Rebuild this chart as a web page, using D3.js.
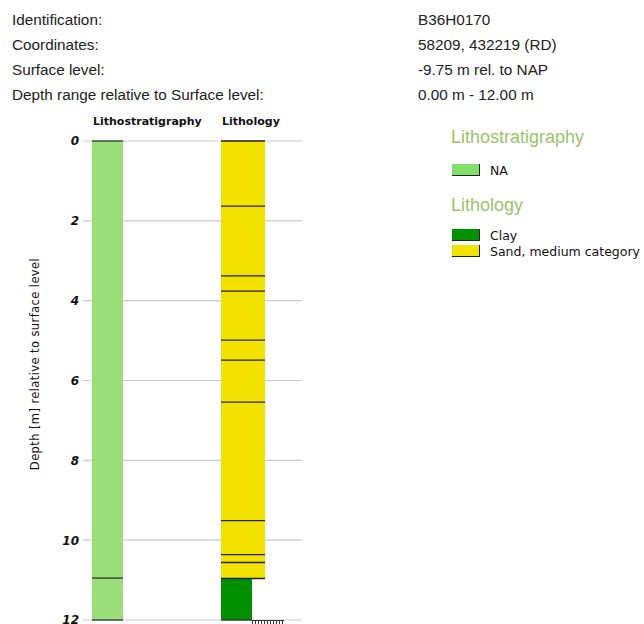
<!DOCTYPE html>
<html><head><meta charset="utf-8">
<script src="https://cdn.jsdelivr.net/npm/d3@7"></script>
<style>body{margin:0;background:#fff;} svg{display:block;}</style>
</head><body>
<script>
const infoLabels = ["Identification:", "Coordinates:", "Surface level:", "Depth range relative to Surface level:"];
const infoValues = ["B36H0170", "58209, 432219 (RD)", "-9.75 m rel. to NAP", "0.00 m - 12.00 m"];
const depthTicks = [0, 2, 4, 6, 8, 10, 12];
const lithostratLayers = [
  {top: 0, bottom: 10.95, unit: "NA"},
  {top: 10.95, bottom: 12, unit: "NA"}
];
const lithologyLayers = [
  {top: 0, bottom: 1.63, type: "Sand, medium category"},
  {top: 1.63, bottom: 3.38, type: "Sand, medium category"},
  {top: 3.38, bottom: 3.76, type: "Sand, medium category"},
  {top: 3.76, bottom: 4.99, type: "Sand, medium category"},
  {top: 4.99, bottom: 5.49, type: "Sand, medium category"},
  {top: 5.49, bottom: 6.54, type: "Sand, medium category"},
  {top: 6.54, bottom: 9.51, type: "Sand, medium category"},
  {top: 9.51, bottom: 10.36, type: "Sand, medium category"},
  {top: 10.36, bottom: 10.56, type: "Sand, medium category"},
  {top: 10.56, bottom: 10.96, type: "Sand, medium category"},
  {top: 10.96, bottom: 12, type: "Clay"}
];
const lithostratLegend = ["NA"];
const lithologyLegend = ["Clay", "Sand, medium category"];
const colors = {"NA": "#9ade7a", "Clay": "#009000", "Sand, medium category": "#f3e100"};
const legendColors = {"NA": "#7fe06a", "Clay": "#009000", "Sand, medium category": "#f3e100"};
const widths = {"Clay": 31, "Sand, medium category": 44};

const W = 644, H = 624;
const svg = d3.select("body").append("svg").attr("width", W).attr("height", H);

// header info
const info = svg.append("g").attr("font-family", "'Liberation Sans', Arial, sans-serif").attr("font-size", 15.3).attr("fill", "#222");
infoLabels.forEach((t, i) => {
  info.append("text").attr("x", 12).attr("y", 24.5 + i * 25).text(t);
  info.append("text").attr("x", 418).attr("y", 24.5 + i * 25).text(infoValues[i]);
});

const y = d3.scaleLinear().domain([0, 12]).range([141, 620]);

// gridlines
svg.append("g").selectAll("line").data(depthTicks).join("line")
  .attr("x1", 83).attr("x2", 302)
  .attr("y1", d => y(d)).attr("y2", d => y(d))
  .attr("stroke", "#cccccc").attr("stroke-width", 1.2);

// tick labels via axis
const axisG = svg.append("g").attr("transform", "translate(83,0)")
  .call(d3.axisLeft(y).tickValues(depthTicks).tickSize(0).tickPadding(4).tickFormat(d3.format("d")));
axisG.select(".domain").remove();
axisG.selectAll("text").attr("font-family", "'DejaVu Sans', sans-serif").attr("font-size", 12)
  .attr("font-weight", "bold").attr("font-style", "italic").attr("fill", "#111");

// y-axis title
svg.append("text").attr("transform", "translate(39,364) rotate(-90)")
  .attr("text-anchor", "middle").attr("font-family", "'DejaVu Sans', sans-serif").attr("font-size", 11.5)
  .attr("letter-spacing", 0.4)
  .attr("fill", "#111").text("Depth [m] relative to surface level");

// column headers
const hdr = svg.append("g").attr("font-family", "'DejaVu Sans', sans-serif").attr("font-size", 11).attr("font-weight", "bold").attr("fill", "#111");
hdr.append("text").attr("x", 93).attr("y", 125).text("Lithostratigraphy");
hdr.append("text").attr("x", 222).attr("y", 125).text("Lithology");

// lithostrat column
const c1 = 92, c1w = 31;
svg.append("g").selectAll("rect").data(lithostratLayers).join("rect")
  .attr("x", c1).attr("width", c1w)
  .attr("y", d => y(d.top)).attr("height", d => y(d.bottom) - y(d.top))
  .attr("fill", d => colors[d.unit]);
svg.append("g").selectAll("line").data(lithostratLayers).join("line")
  .attr("x1", c1).attr("x2", c1 + c1w)
  .attr("y1", d => y(d.top)).attr("y2", d => y(d.top))
  .attr("stroke", "#333").attr("stroke-width", 1.3);
svg.append("line").attr("x1", c1).attr("x2", c1 + c1w).attr("y1", y(12)).attr("y2", y(12)).attr("stroke", "#333").attr("stroke-width", 1.3);

// lithology column
const c2 = 221;
svg.append("g").selectAll("rect").data(lithologyLayers).join("rect")
  .attr("x", c2).attr("width", d => widths[d.type])
  .attr("y", d => y(d.top)).attr("height", d => y(d.bottom) - y(d.top))
  .attr("fill", d => colors[d.type]);
svg.append("g").selectAll("line").data(lithologyLayers).join("line")
  .attr("x1", c2).attr("x2", (d, i) => c2 + Math.max(widths[d.type], i > 0 ? widths[lithologyLayers[i-1].type] : 0))
  .attr("y1", d => y(d.top)).attr("y2", d => y(d.top))
  .attr("stroke", "#222").attr("stroke-width", 1.3);
svg.append("line").attr("x1", c2).attr("x2", c2 + widths["Clay"]).attr("y1", y(12)).attr("y2", y(12)).attr("stroke", "#333").attr("stroke-width", 1.3);

// small comb marker below clay
const combY = y(12) + 0.5;
const comb = svg.append("g").attr("stroke", "#333").attr("stroke-width", 1);
comb.append("line").attr("x1", 252).attr("x2", 284).attr("y1", combY).attr("y2", combY);
d3.range(252, 285, 3).forEach(x => comb.append("line").attr("x1", x + 0.5).attr("x2", x + 0.5).attr("y1", combY).attr("y2", combY + 4));

// legend
const lg = svg.append("g");
lg.append("text").attr("x", 451).attr("y", 143).attr("font-family", "'Liberation Sans', Arial, sans-serif")
  .attr("font-size", 18).attr("fill", "#9cc46a").text("Lithostratigraphy");
lg.append("text").attr("x", 451).attr("y", 211).attr("font-family", "'Liberation Sans', Arial, sans-serif")
  .attr("font-size", 18).attr("fill", "#9cc46a").text("Lithology");
function legendItems(items, y0) {
  items.forEach((k, i) => {
    const yy = y0 + i * 16;
    lg.append("rect").attr("x", 452).attr("y", yy).attr("width", 28).attr("height", 12).attr("fill", "#222");
    lg.append("rect").attr("x", 452).attr("y", yy).attr("width", 27).attr("height", 11).attr("fill", legendColors[k]);
    lg.append("text").attr("x", 490).attr("y", yy + 10.5).attr("font-family", "'DejaVu Sans', sans-serif")
      .attr("font-size", 12.5).attr("fill", "#111").text(k);
  });
}
legendItems(lithostratLegend, 164);
legendItems(lithologyLegend, 229);
</script>
</body></html>
